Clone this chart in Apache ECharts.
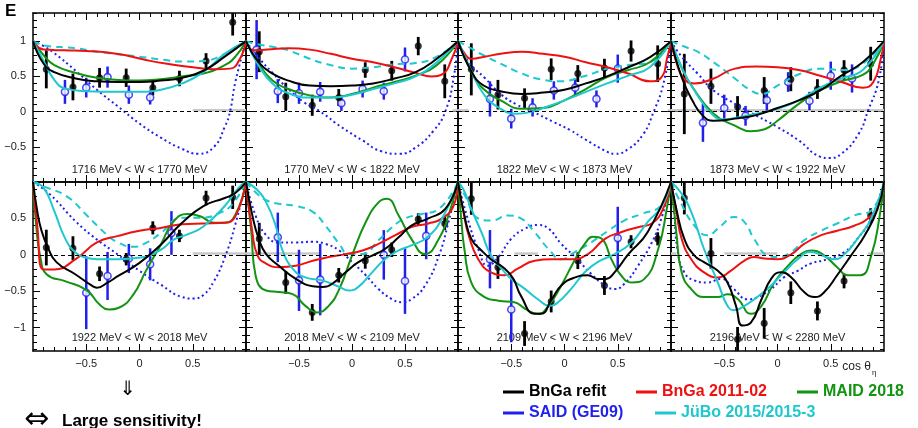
<!DOCTYPE html>
<html>
<head>
<meta charset="utf-8">
<title>E</title>
<script src="https://cdn.jsdelivr.net/npm/echarts@6.0.0/dist/echarts.min.js"></script>
<style>
html, body { margin: 0; padding: 0; background: #fff; }
#main { width: 918px; height: 428px; }
</style>
</head>
<body>
<div id="main"></div>
<script>
// W bins, one panel each
var panelLabels = [
    '1716 MeV < W < 1770 MeV', '1770 MeV < W < 1822 MeV', '1822 MeV < W < 1873 MeV', '1873 MeV < W < 1922 MeV',
    '1922 MeV < W < 2018 MeV', '2018 MeV < W < 2109 MeV', '2109 MeV < W < 2196 MeV', '2196 MeV < W < 2280 MeV'
];

// new data (black points), same cos bins in every panel
var blackX = [-0.875, -0.625, -0.375, -0.125, 0.125, 0.375, 0.625, 0.875];
var blackY = [
    [0.60, 0.35, 0.48, 0.48, 0.34, 0.47, 0.72, 1.27],
    [0.85, 0.21, 0.09, 0.20, 0.59, 0.58, 0.93, 0.43],
    [0.60, 0.24, 0.19, 0.60, 0.54, 0.62, 0.86, 0.68],
    [0.25, 0.36, 0.07, 0.30, 0.46, 0.32, 0.59, 0.68],
    [0.10, 0.09, -0.26, -0.06, 0.37, 0.26, 0.78, 0.79],
    [0.22, -0.38, -0.79, -0.28, -0.08, 0.07, 0.49, 0.43],
    [0.77, -0.17, -1.08, -0.64, -0.08, -0.42, 0.18, 0.22],
    [0.78, 0.02, -1.16, -0.94, -0.52, -0.77, -0.36, 0.54]
];
var blackErr = [
    [0.27, 0.19, 0.14, 0.13, 0.11, 0.11, 0.11, 0.19],
    [0.29, 0.20, 0.15, 0.12, 0.11, 0.14, 0.13, 0.24],
    [0.37, 0.21, 0.14, 0.155, 0.12, 0.13, 0.15, 0.26],
    [0.57, 0.25, 0.15, 0.19, 0.17, 0.14, 0.14, 0.24],
    [0.245, 0.165, 0.10, 0.085, 0.09, 0.085, 0.10, 0.16],
    [0.22, 0.155, 0.115, 0.10, 0.11, 0.10, 0.08, 0.09],
    [0.22, 0.16, 0.17, 0.15, 0.115, 0.13, 0.09, 0.09],
    [0.225, 0.21, 0.17, 0.21, 0.155, 0.13, 0.10, 0.10]
];

// older data (blue open points)
var blueX = [
    [-0.7, -0.5, -0.3, -0.1, 0.1],
    [-0.9, -0.7, -0.5, -0.3, -0.1, 0.1, 0.3, 0.5],
    [-0.7, -0.5, -0.3, -0.1, 0.1, 0.3, 0.5],
    [-0.7, -0.5, -0.3, -0.1, 0.1, 0.3, 0.5, 0.7],
    [-0.5, -0.3, -0.1, 0.1, 0.3],
    [-0.7, -0.5, -0.3, 0.3, 0.5, 0.7],
    [-0.7, -0.5, 0.5],
    []
];
var blueY = [
    [0.28, 0.34, 0.49, 0.24, 0.20],
    [0.88, 0.29, 0.26, 0.28, 0.12, 0.32, 0.29, 0.74],
    [0.18, -0.10, 0.06, 0.30, 0.34, 0.18, 0.61],
    [-0.16, 0.05, -0.06, 0.16, 0.42, 0.15, 0.51, 0.47],
    [-0.52, -0.29, -0.05, -0.13, 0.30],
    [0.24, -0.35, -0.34, 0.00, -0.36, 0.26],
    [-0.06, -0.75, 0.23],
    []
];
var blueErr = [
    [0.17, 0.14, 0.15, 0.13, 0.10],
    [0.42, 0.17, 0.15, 0.14, 0.11, 0.12, 0.12, 0.17],
    [0.25, 0.14, 0.13, 0.13, 0.13, 0.12, 0.20],
    [0.27, 0.19, 0.14, 0.15, 0.14, 0.13, 0.20, 0.20],
    [0.50, 0.33, 0.20, 0.22, 0.30],
    [0.34, 0.42, 0.49, 0.34, 0.45, 0.32],
    [0.40, 0.45, 0.43],
    []
];

// model curves, [cos, E] per panel
var bngaRefit = [
    [[-1,1],[-0.9,0.68],[-0.8,0.56],[-0.6,0.47],[-0.4,0.43],[-0.2,0.42],[0,0.42],[0.2,0.44],[0.4,0.48],[0.6,0.58],[0.8,0.78],[1,1]],
    [[-1,1],[-0.88,0.7],[-0.75,0.54],[-0.6,0.44],[-0.4,0.37],[-0.2,0.36],[0,0.37],[0.2,0.4],[0.4,0.47],[0.6,0.56],[0.8,0.75],[1,1]],
    [[-1,1],[-0.87,0.56],[-0.76,0.37],[-0.6,0.29],[-0.4,0.25],[-0.2,0.27],[0,0.31],[0.2,0.4],[0.4,0.5],[0.6,0.63],[0.8,0.77],[1,1]],
    [[-1,1],[-0.9,0.49],[-0.8,0.16],[-0.7,-0.06],[-0.6,-0.13],[-0.4,-0.1],[-0.2,-0.05],[0,0.05],[0.2,0.16],[0.4,0.3],[0.6,0.51],[0.8,0.7],[1,1]],
    [[-1,1],[-0.96,0.6],[-0.92,0.33],[-0.86,0.1],[-0.78,-0.1],[-0.6,-0.27],[-0.45,-0.42],[-0.4,-0.45],[-0.3,-0.38],[-0.2,-0.29],[0,-0.11],[0.2,0.14],[0.4,0.44],[0.6,0.67],[0.8,0.78],[0.9,0.85],[1,1]],
    [[-1,1],[-0.94,0.54],[-0.88,0.22],[-0.81,0.01],[-0.69,-0.15],[-0.53,-0.33],[-0.37,-0.43],[-0.28,-0.44],[-0.19,-0.4],[-0.06,-0.24],[0.06,-0.1],[0.19,-0.01],[0.31,0.08],[0.44,0.24],[0.56,0.4],[0.72,0.5],[0.88,0.63],[1,1]],
    [[-1,1],[-0.94,0.54],[-0.875,0.22],[-0.78,0.06],[-0.69,-0.06],[-0.56,-0.19],[-0.48,-0.33],[-0.41,-0.56],[-0.28,-0.81],[-0.22,-0.81],[-0.12,-0.61],[-0.03,-0.42],[0.1,-0.31],[0.22,-0.28],[0.31,-0.33],[0.39,-0.33],[0.47,-0.24],[0.6,0.01],[0.78,0.31],[1,1]],
    [[-1,1],[-0.95,0.63],[-0.875,0.22],[-0.78,-0.01],[-0.69,-0.1],[-0.56,-0.22],[-0.47,-0.38],[-0.39,-0.7],[-0.33,-0.97],[-0.25,-0.93],[-0.15,-0.61],[-0.06,-0.33],[0.03,-0.24],[0.13,-0.31],[0.25,-0.51],[0.35,-0.58],[0.44,-0.51],[0.56,-0.28],[0.69,-0.01],[0.82,0.27],[0.94,0.63],[1,1]]
];
var bnga2011 = [
    [[-1,1],[-0.9,0.88],[-0.7,0.87],[-0.5,0.86],[-0.3,0.84],[-0.1,0.79],[0.1,0.72],[0.3,0.67],[0.5,0.63],[0.7,0.6],[0.85,0.61],[0.94,0.74],[1,1]],
    [[-1,1],[-0.93,0.87],[-0.8,0.88],[-0.6,0.9],[-0.4,0.88],[-0.2,0.82],[0,0.75],[0.2,0.7],[0.4,0.63],[0.6,0.55],[0.75,0.5],[0.85,0.53],[0.95,0.78],[1,1]],
    [[-1,1],[-0.95,0.85],[-0.87,0.75],[-0.75,0.78],[-0.6,0.82],[-0.4,0.85],[-0.2,0.82],[0,0.78],[0.2,0.7],[0.4,0.63],[0.6,0.54],[0.8,0.43],[0.9,0.47],[0.97,0.8],[1,1]],
    [[-1,1],[-0.95,0.7],[-0.88,0.47],[-0.78,0.4],[-0.6,0.47],[-0.4,0.61],[-0.2,0.64],[0,0.63],[0.2,0.59],[0.4,0.51],[0.6,0.42],[0.8,0.34],[0.9,0.42],[0.97,0.75],[1,1]],
    [[-1,1],[-0.96,0.4],[-0.9,-0.2],[-0.8,-0.2],[-0.6,-0.06],[-0.4,0.17],[-0.2,0.26],[0,0.33],[0.2,0.37],[0.4,0.42],[0.6,0.43],[0.8,0.44],[0.9,0.53],[1,1]],
    [[-1,1],[-0.94,0.31],[-0.89,-0.01],[-0.81,-0.12],[-0.69,-0.17],[-0.53,-0.15],[-0.37,-0.08],[-0.22,-0.03],[-0.06,0.01],[0.1,0.06],[0.25,0.15],[0.41,0.27],[0.56,0.38],[0.72,0.43],[0.85,0.5],[0.96,0.68],[1,1]],
    [[-1,1],[-0.95,0.6],[-0.9,0.27],[-0.81,-0.06],[-0.69,-0.24],[-0.56,-0.28],[-0.44,-0.19],[-0.28,-0.08],[-0.12,-0.06],[0.06,-0.06],[0.22,0.01],[0.38,0.22],[0.53,0.31],[0.69,0.38],[0.82,0.43],[0.94,0.68],[1,1]],
    [[-1,1],[-0.95,0.6],[-0.9,0.22],[-0.81,-0.06],[-0.69,-0.24],[-0.56,-0.31],[-0.44,-0.22],[-0.31,-0.08],[-0.22,-0.03],[-0.12,-0.05],[0,-0.06],[0.13,0.01],[0.25,0.15],[0.41,0.27],[0.56,0.33],[0.72,0.4],[0.85,0.5],[0.94,0.68],[1,1]]
];
var maid2018 = [
    [[-1,1],[-0.9,0.8],[-0.8,0.66],[-0.6,0.55],[-0.4,0.48],[-0.2,0.45],[0,0.44],[0.2,0.46],[0.4,0.5],[0.6,0.54],[0.8,0.66],[0.9,0.78],[1,1]],
    [[-1,1],[-0.88,0.68],[-0.75,0.44],[-0.6,0.32],[-0.4,0.23],[-0.2,0.2],[0,0.25],[0.2,0.34],[0.4,0.42],[0.6,0.51],[0.8,0.66],[1,1]],
    [[-1,1],[-0.87,0.55],[-0.76,0.32],[-0.6,0.16],[-0.4,0.04],[-0.2,0.05],[0,0.16],[0.2,0.32],[0.4,0.49],[0.6,0.59],[0.8,0.7],[1,1]],
    [[-1,1],[-0.9,0.62],[-0.8,0.35],[-0.6,-0.03],[-0.4,-0.2],[-0.25,-0.28],[-0.12,-0.25],[0,-0.13],[0.2,0.11],[0.4,0.3],[0.6,0.43],[0.8,0.52],[0.9,0.68],[1,1]],
    [[-1,1],[-0.97,0.4],[-0.93,-0.04],[-0.87,-0.27],[-0.7,-0.36],[-0.5,-0.48],[-0.37,-0.69],[-0.28,-0.75],[-0.2,-0.73],[-0.06,-0.55],[0.06,-0.22],[0.2,0.14],[0.32,0.46],[0.45,0.56],[0.57,0.53],[0.7,0.44],[0.8,0.44],[0.9,0.55],[1,1]],
    [[-1,1],[-0.95,0.31],[-0.91,-0.28],[-0.81,-0.49],[-0.69,-0.51],[-0.56,-0.54],[-0.44,-0.7],[-0.33,-0.79],[-0.22,-0.7],[-0.12,-0.47],[0,-0.01],[0.13,0.45],[0.25,0.72],[0.33,0.77],[0.44,0.54],[0.56,0.22],[0.69,0.01],[0.82,0.22],[0.91,0.54],[1,1]],
    [[-1,1],[-0.97,0.5],[-0.94,0.08],[-0.875,-0.38],[-0.75,-0.58],[-0.62,-0.63],[-0.47,-0.65],[-0.37,-0.74],[-0.25,-0.81],[-0.15,-0.7],[-0.03,-0.42],[0.1,-0.06],[0.19,0.15],[0.27,0.25],[0.35,0.22],[0.44,-0.06],[0.53,-0.28],[0.63,-0.38],[0.75,-0.33],[0.88,0.08],[0.96,0.63],[1,1]],
    [[-1,1],[-0.97,0.6],[-0.95,0.31],[-0.9,-0.24],[-0.81,-0.47],[-0.69,-0.58],[-0.56,-0.58],[-0.47,-0.54],[-0.37,-0.61],[-0.25,-0.81],[-0.15,-0.7],[-0.03,-0.38],[0.1,-0.15],[0.22,0.01],[0.33,0.06],[0.44,-0.01],[0.56,-0.17],[0.66,-0.28],[0.78,-0.28],[0.88,-0.01],[0.96,0.54],[1,1]]
];
var saidGE09 = [
    [[-1,1],[-0.9,0.93],[-0.8,0.83],[-0.6,0.58],[-0.4,0.31],[-0.2,0.07],[0,-0.17],[0.2,-0.37],[0.4,-0.53],[0.55,-0.6],[0.7,-0.5],[0.8,-0.22],[0.85,0],[0.9,0.42],[1,1]],
    [[-1,1],[-0.9,0.8],[-0.75,0.55],[-0.6,0.32],[-0.45,0.13],[-0.3,0],[-0.1,-0.22],[0.1,-0.41],[0.27,-0.56],[0.45,-0.6],[0.6,-0.51],[0.77,-0.27],[0.88,0],[0.96,0.49],[1,1]],
    [[-1,1],[-0.9,0.7],[-0.75,0.48],[-0.6,0.25],[-0.45,0.1],[-0.3,0],[-0.1,-0.15],[0.05,-0.26],[0.2,-0.4],[0.4,-0.57],[0.47,-0.6],[0.6,-0.53],[0.74,-0.32],[0.83,-0.03],[0.93,0.4],[1,1]],
    [[-1,1],[-0.9,0.78],[-0.75,0.54],[-0.6,0.3],[-0.4,0.11],[-0.27,0],[0,-0.22],[0.2,-0.41],[0.4,-0.64],[0.48,-0.66],[0.6,-0.6],[0.76,-0.32],[0.85,0.01],[0.95,0.44],[1,1]],
    [[-1,1],[-0.84,0.83],[-0.6,0.46],[-0.4,0.21],[-0.2,0],[0,-0.22],[0.2,-0.41],[0.4,-0.58],[0.5,-0.6],[0.6,-0.55],[0.7,-0.36],[0.8,-0.04],[0.9,0.42],[1,1]],
    [[-1,1],[-0.91,0.54],[-0.81,0.27],[-0.69,0.17],[-0.53,0.17],[-0.37,0.18],[-0.25,0.15],[-0.12,0.06],[0,-0.1],[0.13,-0.28],[0.25,-0.47],[0.38,-0.61],[0.47,-0.65],[0.56,-0.61],[0.69,-0.42],[0.82,-0.01],[0.91,0.45],[1,1]],
    [[-1,1],[-0.9,0.45],[-0.81,0.08],[-0.72,-0.15],[-0.62,-0.03],[-0.5,0.22],[-0.37,0.36],[-0.25,0.41],[-0.15,0.36],[-0.03,0.15],[0.1,-0.03],[0.25,-0.26],[0.38,-0.42],[0.47,-0.47],[0.56,-0.4],[0.69,-0.15],[0.82,0.17],[0.91,0.5],[1,1]],
    [[-1,1],[-0.97,0.6],[-0.94,0.08],[-0.875,-0.24],[-0.78,-0.35],[-0.66,-0.38],[-0.53,-0.33],[-0.41,-0.47],[-0.28,-0.61],[-0.19,-0.58],[-0.06,-0.47],[0.06,-0.31],[0.19,-0.22],[0.31,-0.12],[0.47,-0.06],[0.63,0.04],[0.75,0.22],[0.88,0.5],[1,1]]
];
var juboSolid = [
    [[-1,1],[-0.9,0.72],[-0.8,0.45],[-0.7,0.33],[-0.5,0.29],[-0.2,0.28],[0,0.28],[0.2,0.31],[0.4,0.4],[0.6,0.56],[0.8,0.82],[1,1]],
    [[-1,1],[-0.88,0.65],[-0.75,0.4],[-0.6,0.26],[-0.4,0.2],[-0.2,0.2],[0,0.24],[0.2,0.32],[0.4,0.4],[0.6,0.5],[0.8,0.7],[1,1]],
    [[-1,1],[-0.88,0.6],[-0.76,0.25],[-0.6,0.04],[-0.45,-0.03],[-0.3,0],[-0.2,0.05],[0,0.16],[0.2,0.28],[0.4,0.4],[0.6,0.51],[0.8,0.63],[1,1]],
    [[-1,1],[-0.9,0.63],[-0.8,0.35],[-0.6,-0.06],[-0.5,-0.11],[-0.4,-0.09],[-0.2,-0.03],[0,0.04],[0.2,0.16],[0.4,0.34],[0.6,0.47],[0.8,0.59],[1,1]],
    [[-1,1],[-0.9,0.92],[-0.8,0.6],[-0.7,0.23],[-0.6,0.03],[-0.5,-0.04],[-0.4,-0.06],[-0.2,-0.06],[0,-0.04],[0.2,0.07],[0.32,0.21],[0.45,0.28],[0.6,0.39],[0.8,0.67],[0.93,0.92],[1,1]],
    [[-1,1],[-0.9,0.9],[-0.81,0.72],[-0.72,0.4],[-0.66,0.08],[-0.56,-0.19],[-0.44,-0.31],[-0.28,-0.35],[-0.12,-0.44],[-0.03,-0.49],[0.06,-0.44],[0.19,-0.24],[0.31,-0.06],[0.44,0.06],[0.56,0.13],[0.71,0.24],[0.85,0.5],[1,1]],
    [[-1,1],[-0.95,0.9],[-0.875,0.63],[-0.78,0.31],[-0.69,-0.01],[-0.59,-0.19],[-0.5,-0.33],[-0.37,-0.47],[-0.25,-0.61],[-0.14,-0.7],[-0.06,-0.65],[0.06,-0.47],[0.19,-0.24],[0.31,-0.1],[0.47,0.01],[0.63,0.17],[0.78,0.45],[0.91,0.66],[1,1]],
    [[-1,1],[-0.91,0.86],[-0.81,0.59],[-0.69,0.08],[-0.56,-0.38],[-0.47,-0.7],[-0.41,-0.76],[-0.31,-0.7],[-0.19,-0.58],[-0.06,-0.42],[0.06,-0.24],[0.19,-0.06],[0.31,0.04],[0.44,-0.02],[0.53,-0.06],[0.63,0.01],[0.75,0.22],[0.88,0.5],[1,1]]
];
var juboDashed = [
    [[-1,1],[-0.9,0.94],[-0.6,0.9],[-0.4,0.85],[0,0.78],[0.2,0.74],[0.4,0.71],[0.6,0.72],[0.8,0.82],[1,1]],
    [[-1,1],[-0.9,0.96],[-0.75,0.92],[-0.6,0.87],[-0.4,0.75],[-0.2,0.66],[0,0.61],[0.2,0.63],[0.4,0.67],[0.6,0.69],[0.8,0.78],[1,1]],
    [[-1,1],[-0.88,0.9],[-0.76,0.8],[-0.6,0.68],[-0.4,0.54],[-0.2,0.45],[-0.05,0.43],[0.2,0.51],[0.4,0.61],[0.6,0.66],[0.8,0.7],[1,1]],
    [[-1,1],[-0.87,0.92],[-0.75,0.85],[-0.6,0.7],[-0.4,0.47],[-0.27,0.32],[-0.15,0.25],[0,0.37],[0.2,0.53],[0.4,0.61],[0.6,0.59],[0.8,0.68],[1,1]],
    [[-1,1],[-0.9,0.94],[-0.68,0.8],[-0.5,0.55],[-0.31,0.28],[-0.2,0.17],[-0.06,0.11],[0.07,0.17],[0.2,0.3],[0.4,0.51],[0.57,0.51],[0.76,0.58],[0.88,0.71],[1,1]],
    [[-1,1],[-0.91,0.86],[-0.81,0.75],[-0.69,0.7],[-0.53,0.67],[-0.37,0.59],[-0.25,0.4],[-0.12,0.15],[-0.03,0.01],[0.1,0.01],[0.25,0.2],[0.38,0.38],[0.5,0.5],[0.66,0.56],[0.82,0.63],[1,1]],
    [[-1,1],[-0.93,0.8],[-0.81,0.5],[-0.69,0.47],[-0.53,0.54],[-0.41,0.5],[-0.28,0.31],[-0.15,0.08],[-0.03,-0.06],[0.1,0.04],[0.25,0.17],[0.41,0.33],[0.56,0.47],[0.72,0.56],[0.91,0.68],[1,1]],
    [[-1,1],[-0.91,0.72],[-0.78,0.4],[-0.66,0.27],[-0.53,0.4],[-0.41,0.52],[-0.31,0.45],[-0.22,0.22],[-0.09,-0.01],[0,-0.03],[0.13,0.04],[0.25,0.2],[0.41,0.33],[0.56,0.43],[0.72,0.54],[0.88,0.61],[1,1]]
];

// grey systematic bands near E=0, [from, to] in cos
var grayBands = [
    [[0.5, 1]], [[0.95, 1]], [[-1, -0.9], [0.97, 1]], [[-1, 1]],
    [[0.5, 1]], [[-1, -0.3]], [[-0.47, -0.25]], [[-1, -0.95], [-0.5, 0], [0.85, 1]]
];
var bandHeight = 0.035;

var FONT = '"Liberation Sans", Arial, Helvetica, sans-serif';
var NARROW = '"Liberation Sans Narrow", "Arial Narrow", "Liberation Sans", sans-serif';
var colEdges = [33, 246, 458, 671, 884];
var rowTops = [13, 182];
var panelH = 169;
var yRanges = [[-1, 1.4], [-1.32, 1]];

var xMajor = [-0.5, 0, 0.5];
var yMajor = [-1, -0.5, 0, 0.5, 1];
var yLabelVals = [[-0.5, 0, 0.5, 1], [-1, -0.5, 0, 0.5]];

var minorTicks = function(a, b) {
    var out = [];
    for (var k = Math.ceil(a * 10 - 1e-6); k <= Math.floor(b * 10 + 1e-6); k++) {
        if (k % 5 != 0) out.push(k / 10);
    }
    return out;
};

var fmt = function(v) {
    if (v < 0) return '\u2212' + (-v);
    return String(v);
};

var makeAxis = function(g, pos, min, max, ticks, labels, len, line) {
    return {
        type: 'value', gridIndex: g, position: pos, min: min, max: max,
        axisLine: {show: line, onZero: false, lineStyle: {color: '#000', width: 1.5}},
        axisTick: {show: true, inside: true, length: len, customValues: ticks, lineStyle: {color: '#000', width: 1}},
        axisLabel: {show: !!labels, customValues: labels || ticks, formatter: fmt,
                    color: '#222', fontSize: 11, fontFamily: FONT, margin: 7},
        splitLine: {show: false}
    };
};

var errorBars = function(g, xs, ys, es, color, width, yr) {
    var data = xs.map(function(x, i) { return [x, ys[i] - es[i], ys[i] + es[i]]; });
    return {
        type: 'custom', xAxisIndex: g * 4, yAxisIndex: g * 4, silent: true, clip: true,
        encode: {x: 0, y: [1, 2]},
        renderItem: function(params, api) {
            var x = api.value(0);
            var lo = Math.max(api.value(1), yr[0]);
            var hi = Math.min(api.value(2), yr[1]);
            var p1 = api.coord([x, lo]), p2 = api.coord([x, hi]);
            return {type: 'line', shape: {x1: p1[0], y1: p1[1], x2: p2[0], y2: p2[1]},
                    style: {stroke: color, lineWidth: width}};
        },
        data: data
    };
};

var grids = [], xAxes = [], yAxes = [], series = [], graphics = [];

var curveDefs = [
    {name: 'SAID (GE09)', data: saidGE09, color: '#1f1fee', type: [2, 3]},
    {name: 'JüBo 2015/2015-3', data: juboDashed, color: '#1ec8ce', type: [7, 5]},
    {name: 'MAID 2018', data: maid2018, color: '#129312', type: 'solid'},
    {name: 'BnGa 2011-02', data: bnga2011, color: '#ee1111', type: 'solid'},
    {name: 'JüBo 2015/2015-3', data: juboSolid, color: '#1ec8ce', type: 'solid'},
    {name: 'BnGa refit', data: bngaRefit, color: '#000000', type: 'solid'}
];

for (var g = 0; g < 8; g++) {
    var row = Math.floor(g / 4), col = g % 4;
    var yr = yRanges[row];
    var left = colEdges[col], width = colEdges[col + 1] - colEdges[col];
    grids.push({left: left, top: rowTops[row], width: width, height: panelH});

    var xMinor = minorTicks(-1, 1), yMinor = minorTicks(yr[0], yr[1]);
    xAxes.push(makeAxis(g, 'bottom', -1, 1, xMajor, row == 1 ? xMajor : null, 7, true));
    xAxes.push(makeAxis(g, 'bottom', -1, 1, xMinor, null, 4, false));
    xAxes.push(makeAxis(g, 'top', -1, 1, xMajor, null, 7, true));
    xAxes.push(makeAxis(g, 'top', -1, 1, xMinor, null, 4, false));
    yAxes.push(makeAxis(g, 'left', yr[0], yr[1], yMajor, col == 0 ? yLabelVals[row] : null, 7, true));
    yAxes.push(makeAxis(g, 'left', yr[0], yr[1], yMinor, null, 4, false));
    yAxes.push(makeAxis(g, 'right', yr[0], yr[1], yMajor, null, 7, true));
    yAxes.push(makeAxis(g, 'right', yr[0], yr[1], yMinor, null, 4, false));

    // grey band + dashed zero line
    series.push({
        type: 'custom', xAxisIndex: g * 4, yAxisIndex: g * 4, silent: true, clip: true,
        encode: {x: [0, 1]},
        renderItem: function(params, api) {
            var p1 = api.coord([api.value(0), bandHeight]);
            var p2 = api.coord([api.value(1), 0]);
            return {type: 'rect', shape: {x: p1[0], y: p1[1], width: p2[0] - p1[0], height: p2[1] - p1[1]},
                    style: {fill: '#c9c9c9'}};
        },
        data: grayBands[g],
        markLine: {
            silent: true, symbol: 'none', label: {show: false},
            lineStyle: {color: '#000', width: 1, type: [4, 3]},
            data: [{yAxis: 0}]
        }
    });

    curveDefs.forEach(function(c) {
        series.push({
            type: 'line', name: c.name, xAxisIndex: g * 4, yAxisIndex: g * 4,
            data: c.data[g], smooth: 0.5, symbol: 'none', silent: true,
            lineStyle: {color: c.color, width: 2, type: c.type},
            itemStyle: {color: c.color}
        });
    });

    series.push(errorBars(g, blueX[g], blueY[g], blueErr[g], '#1f1fee', 2.5, yr));
    series.push(errorBars(g, blackX, blackY[g], blackErr[g], '#000', 2.8, yr));
    series.push({
        type: 'scatter', xAxisIndex: g * 4, yAxisIndex: g * 4, silent: true,
        symbol: 'circle', symbolSize: 7,
        itemStyle: {color: '#fff', borderColor: '#1f1fee', borderWidth: 1.6},
        data: blueX[g].map(function(x, i) { return [x, blueY[g][i]]; })
    });
    series.push({
        type: 'scatter', xAxisIndex: g * 4, yAxisIndex: g * 4, silent: true,
        symbol: 'circle', symbolSize: 7, itemStyle: {color: '#000'},
        data: blackX.map(function(x, i) { return [x, blackY[g][i]]; })
    });

    graphics.push({
        type: 'text', x: left + width / 2, y: row == 0 ? 170 : 338,
        style: {text: panelLabels[g], fill: '#222', font: '11px ' + FONT, align: 'center', verticalAlign: 'middle'}
    });
}

graphics.push({type: 'text', x: 5, y: 3, style: {text: 'E', fill: '#000', font: 'bold 17px ' + FONT}});
graphics.push({type: 'text', x: 871, y: 367, style: {text: 'cos θ', fill: '#222', font: '12px ' + FONT, align: 'right', verticalAlign: 'middle'}});
graphics.push({type: 'text', x: 872, y: 373, style: {text: 'η', fill: '#222', font: '8px ' + FONT, verticalAlign: 'middle'}});
graphics.push({type: 'text', x: 128, y: 390, style: {text: '⇓', fill: '#000', font: '20px "DejaVu Sans", sans-serif', align: 'center', verticalAlign: 'middle'}});
graphics.push({type: 'text', x: 24, y: 420, style: {text: '⇔', fill: '#000', font: '30px "DejaVu Sans", sans-serif', verticalAlign: 'middle'}});
graphics.push({type: 'text', x: 62, y: 421, style: {text: 'Large sensitivity!', fill: '#000', font: 'bold 17px ' + FONT, verticalAlign: 'middle'}});

var legendItem = function(name, color, left, top) {
    return {
        data: [{name: name, itemStyle: {color: color}, textStyle: {color: color}}],
        left: left, top: top, padding: 0, icon: 'rect', itemWidth: 21, itemHeight: 3, itemGap: 6,
        selectedMode: false,
        textStyle: {fontFamily: NARROW, fontWeight: 'bold', fontSize: 16}
    };
};

var myChart = echarts.init(document.getElementById('main'));
var option = {
    backgroundColor: '#fff',
    animation: false,
    grid: grids,
    xAxis: xAxes,
    yAxis: yAxes,
    legend: [
        legendItem('BnGa refit', '#000000', 503, 384),
        legendItem('BnGa 2011-02', '#ee1111', 636, 384),
        legendItem('MAID 2018', '#129312', 797, 384),
        legendItem('SAID (GE09)', '#1f1fee', 503, 405),
        legendItem('JüBo 2015/2015-3', '#1ec8ce', 655, 405)
    ],
    graphic: graphics,
    series: series
};
myChart.setOption(option);
</script>
</body>
</html>
